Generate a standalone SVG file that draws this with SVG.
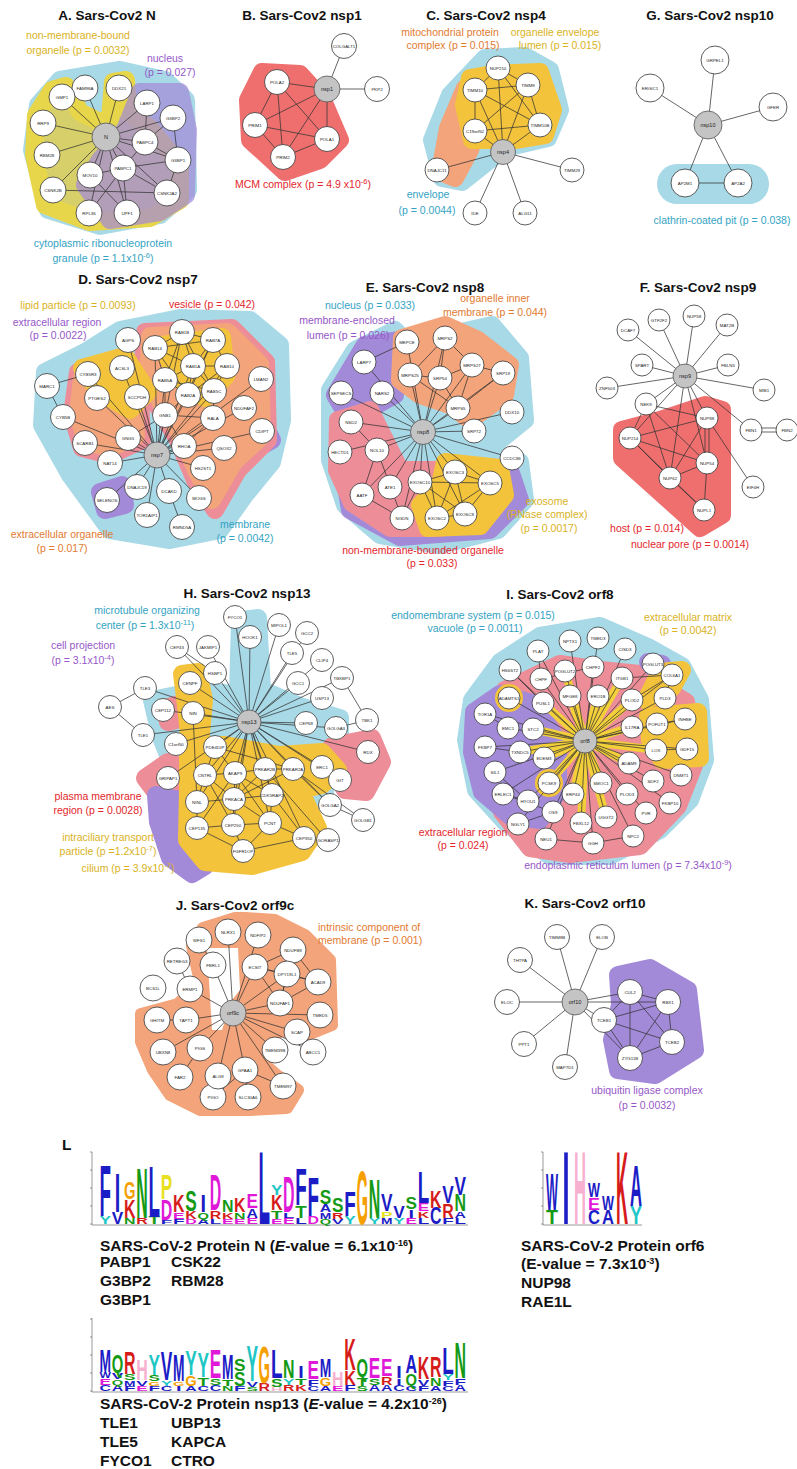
<svg xmlns="http://www.w3.org/2000/svg" width="797" height="1469" viewBox="0 0 797 1469">
<style>
.ti{font-family:"Liberation Sans",Arial,sans-serif;font-weight:bold;font-size:13.5px;fill:#111;text-anchor:middle}
.lb{font-family:"Liberation Sans",Arial,sans-serif;font-size:10.5px;text-anchor:middle}
.la{font-family:"Liberation Sans",Arial,sans-serif;font-size:10.5px}
.cy{fill:#33a3c3}.ye{fill:#d9b21c}.pu{fill:#9657c8}.rd{fill:#e3262b}.or{fill:#e27a30}
.n{fill:#fff;stroke:#333;stroke-width:0.8}
.h{fill:#c4c4c4;stroke:#555;stroke-width:0.8}
.t{font-family:"Liberation Sans",Arial,sans-serif;font-size:4.4px;text-anchor:middle;fill:#222}
.ht{font-family:"Liberation Sans",Arial,sans-serif;font-size:5.5px;text-anchor:middle;fill:#222}
.e{stroke:#333;stroke-width:0.75;fill:none}
.bC{fill:#a8d9e7;stroke:#a8d9e7;stroke-width:18;stroke-linejoin:round}
.bY{fill:#f3c33c;stroke:#f3c33c;stroke-width:18;stroke-linejoin:round}
.bA{fill:#d6cf6a;stroke:#e8d64a;stroke-width:18;stroke-linejoin:round}
.bP{fill:#a38ad9;stroke:#a38ad9;stroke-width:18;stroke-linejoin:round}
.bR{fill:#ef6f6f;stroke:#ef6f6f;stroke-width:18;stroke-linejoin:round}
.bK{fill:#ec8d98;stroke:#ec8d98;stroke-width:18;stroke-linejoin:round}
.bO{fill:#f3a47a;stroke:#f3a47a;stroke-width:18;stroke-linejoin:round}
.bO2{fill:#f3a47a;stroke:#f3a47a;stroke-width:12;stroke-linejoin:round}
.yl{stroke:#f3d03a;stroke-width:8;stroke-linecap:round;fill:none}
.lt{font-family:"Liberation Sans",Arial,sans-serif;font-weight:bold;font-size:15.5px;fill:#111}
.lg text{font-family:"Liberation Sans",Arial,sans-serif;font-weight:bold;font-size:10px}
.B{fill:#1c1cc6}.G{fill:#f5a000}.Gr{fill:#159a15}.Rd{fill:#d61b1b}.M{fill:#e019d9}.Yl{fill:#e8e020}.Cy{fill:#1fc6c6}.Pk{fill:#f7b0d0}
.ax{stroke:#555;stroke-width:0.6;fill:none}
</style>
<rect width="797" height="1469" fill="#fff"/>

<g id="regions">
<polygon class="bC" points="60,80 120,70 165,80 186,100 188,190 160,215 100,226 48,210 32,150 38,105"/>
<polygon class="bA" points="52,90 66,86 80,112 100,122 110,118 113,82 126,80 128,112 150,128 180,165 180,200 150,218 90,222 45,205 34,155 36,115"/>
<polygon class="bP" opacity="0.7" points="140,92 180,92 188,130 186,195 160,212 110,220 85,185 100,160 125,130"/>
<polygon class="bR" points="262,72 300,74 322,98 340,140 320,160 285,172 250,140 248,100"/>
<polygon class="bC" points="442,178 432,140 450,95 485,58 525,56 550,70 560,110 548,138 505,148 462,182"/>
<polygon class="bO" points="440,172 448,128 465,88 480,120 470,150 455,178"/>
<polygon class="bY" points="470,78 492,74 540,72 553,110 545,135 515,140 472,140 464,105"/>
<rect x="657" y="164" width="112" height="40" rx="20" fill="#a8d9e7"/>
<polygon class="bC" points="45,372 85,352 120,330 180,318 250,320 280,345 282,420 272,462 245,495 220,530 170,540 110,530 70,475 42,425"/>
<polygon class="bP" points="100,492 122,485 125,505 105,510"/>
<polygon class="bP" points="238,400 262,420 272,440 250,452 232,440"/>
<polygon class="bK" points="145,332 232,328 266,362 268,440 238,470 215,510 195,480 178,440 160,410 142,380"/>
<polygon class="bO" points="150,336 228,332 260,364 262,436 234,462 212,500 198,474 182,438 164,408 148,380"/>
<polygon class="bK" points="78,372 110,362 140,400 142,440 110,455 82,448 72,415"/>
<polygon class="bO" points="82,378 108,368 134,402 136,436 110,448 86,442 78,414"/>
<polygon class="bY" points="82,368 125,356 148,392 130,410 100,392"/>
<polygon class="bY" points="162,345 222,337 226,376 205,398 176,376"/>
<polygon class="bC" points="330,390 355,350 395,330 415,352 430,395 448,335 492,325 520,358 525,420 500,440 480,448 520,462 525,500 498,530 440,545 380,535 345,505 330,460"/>
<polygon class="bP" points="335,395 365,345 400,340 395,395 350,420"/>
<polygon class="bP" points="345,480 400,470 470,470 510,470 520,500 490,530 400,537 350,510"/>
<polygon class="bK" points="338,420 370,410 385,440 400,470 440,470 470,500 440,528 390,528 352,503 337,470"/>
<polygon class="bO" points="402,338 445,325 478,340 510,365 505,395 470,420 450,405 420,395 400,380"/>
<polygon class="bY" points="445,462 500,468 505,495 480,526 428,528 420,505 440,485"/>
<polygon class="bR" points="705,405 722,410 722,515 700,528 622,458 622,430 660,420"/>
<polygon class="bC" points="152,700 200,690 238,695 240,620 258,618 262,690 300,706 340,718 340,736 300,745 325,785 325,800 300,800 300,840 255,862 212,862 185,845 185,800 172,765 160,735"/>
<polygon class="bK" points="145,778 168,762 185,768 188,795 160,798"/>
<polygon class="bP" points="156,795 180,800 188,850 205,866 192,874 170,858 158,822"/>
<polygon class="bK" points="332,746 372,738 382,762 366,792 345,790 334,770"/>
<polygon class="bK" points="165,708 180,704 182,718 168,722"/>
<polygon class="bY" points="188,745 225,745 280,755 322,752 338,770 322,785 300,790 318,828 302,852 252,866 205,862 187,840 188,790"/>
<polygon class="bY" points="182,674 198,672 204,700 200,745 190,745 186,705"/>
<polygon class="bC" points="500,662 540,636 600,626 650,648 682,666 700,700 705,760 690,800 660,830 610,856 550,856 505,822 476,790 466,740 472,700"/>
<polygon class="bK" points="505,690 560,664 600,670 640,674 686,702 696,760 678,806 640,846 570,854 530,848 502,812 484,762 484,722"/>
<polygon class="bP" points="474,712 500,694 535,704 558,742 558,792 540,820 510,816 482,792 472,752"/>
<polygon class="bP" points="648,662 662,664 660,676"/>
<polygon class="bY" points="648,716 698,712 700,758 662,760 650,740"/>
<polygon class="bY" points="660,672 682,670 672,688 646,700"/>
<path class="yl" d="M585 741L543 703M585 741L570 696M585 741L598 696M585 741L632 700M585 741L632 727M585 741L656 750M585 741L629 763M585 741L601 783M585 741L573 794M585 741L549 783M585 741L544 758M585 741L533 729M585 741L520 752M585 741L565 671M585 741L622 678M585 741L581 823M585 741L606 817"/>
<circle cx="509" cy="698" r="14" fill="#f3c33c"/>
<circle cx="549" cy="783" r="14" fill="#f3c33c"/>
<polygon class="bO2" points="141,1014 178,1004 200,982 192,946 203,928 216,924 235,918 245,918 275,920 305,935 330,960 332,1025 300,1038 282,1030 262,1044 262,1062 278,1076 298,1090 287,1108 250,1110 200,1110 170,1095 153,1070 141,1042"/>
<polygon fill="#fff" points="207,948 238,948 240,990 232,1000 222,1030 212,1030"/>
<polygon class="bP" fill="#9b7ad8" stroke="#9b7ad8" points="618,975 650,968 688,990 695,1050 655,1075 618,1070 612,1040 620,1005"/>
</g>

<g id="connectors">
<path class="e" d="M106 137L85 88M106 137L119 88M106 137L62 97M106 137L43 123M106 137L47 155M106 137L53 190M106 137L90 175M106 137L123 168M106 137L147 103M106 137L173 118M106 137L145 142M106 137L178 160M106 137L167 193M106 137L89 213M106 137L127 213M53 190L167 193M123 168L145 142M123 168L178 160M145 142L173 118M145 142L178 160M178 160L173 118M123 168L90 175M123 168L127 213M123 168L89 213M90 175L127 213M123 168L167 193M178 160L167 193M145 142L147 103"/>
<path class="e" d="M327 89L344 46M327 89L377 89M327 89L277 82M327 89L255 125M327 89L327 139M327 89L283 157M277 82L255 125M277 82L283 157M277 82L327 139M255 125L283 157M255 125L327 139M283 157L327 139"/>
<path class="e" d="M503 152L498 68M503 152L475 90M503 152L528 85M503 152L475 131M503 152L540 125M503 152L437 170M503 152L572 170M503 152L475 213M503 152L525 213M475 90L528 85M475 90L475 131M475 90L540 125M528 85L540 125M528 85L475 131M475 131L540 125M498 68L475 90M498 68L528 85M498 68L540 125"/>
<path class="e" d="M708 125L715 60M708 125L650 88M708 125L773 107M708 125L685 183M708 125L738 183M685 183L738 183"/>
<path class="e" d="M157 455L128 340M157 455L155 348M157 455L182 332M157 455L213 340M157 455L122 368M157 455L193 366M157 455L227 366M157 455L88 374M157 455L165 380M157 455L261 379M157 455L137 397M157 455L188 395M157 455L214 391M157 455L97 398M157 455L244 408M157 455L63 417M157 455L165 415M157 455L213 418M157 455L262 431M157 455L85 443M157 455L128 438M157 455L184 446M157 455L224 448M157 455L110 463M157 455L203 468M157 455L137 487M157 455L169 491M157 455L107 500M157 455L199 498M157 455L147 515M169 491L182 527M47 386L88 374M47 386L63 417M155 348L182 332M155 348L193 366M155 348L165 380M182 332L213 340M182 332L193 366M213 340L227 366M213 340L193 366M193 366L227 366M193 366L165 380M193 366L188 395M193 366L214 391M227 366L214 391M165 380L188 395M188 395L214 391M165 380L165 415M165 415L188 395M165 415L213 418M213 418L214 391M184 446L213 418M165 415L128 438M184 446L165 415M155 348L213 340M165 380L214 391M188 395L227 366M155 348L188 395M182 332L214 391M182 332L165 380M213 340L188 395"/>
<path class="e" d="M423 432L407 342M423 432L445 338M423 432L364 362M423 432L472 365M423 432L503 373M423 432L410 375M423 432L440 378M423 432L341 393M423 432L382 393M423 432L458 408M423 432L512 412M423 432L351 422M423 432L474 431M423 432L340 452M423 432L377 450M423 432L512 458M423 432L455 472M423 432L490 483M423 432L420 482M423 432L390 487M423 432L362 495M423 432L402 518M423 432L437 518M423 432L465 514M445 338L410 375M445 338L440 378M445 338L472 365M472 365L503 373M472 365L458 408M410 375L440 378M440 378L458 408M503 373L458 408M410 375L458 408M440 378L472 365M364 362L407 342M351 422L377 450M377 450L362 495M377 450L402 518M362 495L402 518M455 472L490 483M455 472L437 518M455 472L465 514M490 483L465 514M437 518L465 514M420 482L490 483M420 482L437 518M420 482L455 472M490 483L437 518M402 518L420 482M420 482L465 514"/>
<path class="e" d="M685 376L659 320M685 376L694 316M685 376L628 330M685 376L727 325M685 376L642 365M685 376L728 365M685 376L607 388M685 376L764 390M685 376L646 404M685 376L707 418M685 376L751 430M685 376L630 438M685 376L707 463M685 376L670 478M751 428L786 428M751 432L786 432M707 418L753 487M646 404L707 418M646 404L630 438M646 404L670 478M646 404L707 463M630 438L707 418M630 438L707 463M630 438L670 478M705 418L705 463M709 418L709 463M707 418L670 478M707 463L670 478M707 463L704 510M670 478L704 510M630 438L704 510"/>
<path class="e" d="M249 722L235 617M249 722L250 637M249 722L279 625M249 722L307 633M249 722L177 647M249 722L208 647M249 722L292 653M249 722L322 660M249 722L215 673M249 722L342 678M249 722L190 683M249 722L298 683M249 722L322 698M249 722L163 710M249 722L193 713M249 722L306 723M249 722L336 728M249 722L143 735M249 722L176 744M249 722L215 747M249 722L368 752M249 722L322 767M249 722L168 778M249 722L205 775M249 722L235 773M249 722L265 769M249 722L293 769M249 722L340 780M249 722L197 802M249 722L234 799M249 722L272 795M249 722L330 805M249 722L233 825M249 722L270 823M249 722L305 838M249 722L145 688M110 707L145 688M110 707L143 735M342 678L367 720M336 728L367 720M177 647L215 673M205 775L235 773M205 775L197 802M205 775L234 799M205 775L233 825M235 773L234 799M235 773L272 795M235 773L265 769M235 773L270 823M235 773L197 828M265 769L293 769M265 769L234 799M293 769L234 799M265 769L272 795M197 802L234 799M197 802L197 828M234 799L233 825M234 799L272 795M234 799L270 823M272 795L270 823M272 795L305 838M233 825L270 823M197 828L233 825M197 828L243 851M233 825L243 851M270 823L243 851M270 823L305 838M305 838L243 851M215 747L235 773M215 747L205 775M215 747L293 769M293 769L330 805M293 769L363 820M265 769L326 839M330 805L363 820M322 767L340 780M193 713L197 802"/>
<path class="e" d="M585 741L598 638M585 741L570 641M585 741L625 649M585 741L538 651M585 741L653 664M585 741L510 670M585 741L565 671M585 741L593 667M585 741L672 675M585 741L622 678M585 741L541 679M585 741L509 698M585 741L543 703M585 741L570 696M585 741L598 696M585 741L632 700M585 741L665 698M585 741L485 714M585 741L508 728M585 741L533 729M585 741L632 727M585 741L657 724M585 741L685 719M585 741L485 747M585 741L520 752M585 741L544 758M585 741L656 750M585 741L687 749M585 741L629 763M585 741L495 772M585 741L681 775M585 741L549 783M585 741L601 783M585 741L653 781M585 741L503 794M585 741L573 794M585 741L627 794M585 741L670 803M585 741L528 801M585 741L553 812M585 741L606 817M585 741L646 813M585 741L518 824M585 741L581 823M585 741L546 839M585 741L593 843M585 741L633 836M541 679L593 667M632 700L672 675M665 698L672 675M622 678L672 675M656 750L687 749M657 724L685 719M546 839L593 843M593 843L633 836M503 794L553 812M495 772L528 801M510 670L543 703M538 651L541 679M485 714L508 728M485 747L520 752M503 794L528 801M518 824L553 812M581 823L593 843"/>
<path class="e" d="M233 1013L228 932M233 1013L258 935M233 1013L213 965M233 1013L255 967M233 1013L287 974M233 1013L280 1003M233 1013L320 1015M233 1013L297 1032M233 1013L275 1050M233 1013L313 1052M233 1013L245 1070M233 1013L218 1076M233 1013L200 1048M233 1013L163 1052M233 1013L186 1020M233 1013L190 989M233 1013L283 1086M199 940L213 965M157 1020L186 1020M177 961L190 989M180 1077L200 1048M213 1097L218 1076M213 1097L245 1070M248 1097L245 1070M283 1086L245 1070M293 950L255 967M293 950L318 982M318 982L287 974M318 982L280 1003M318 982L255 967M255 967L280 1003M287 974L280 1003M293 950L280 1003M255 967L287 974"/>
<path class="e" d="M575 1002L557 937M575 1002L602 937M575 1002L520 960M575 1002L630 992M575 1002L507 1002M575 1002L668 1002M575 1002L604 1020M575 1002L524 1044M575 1002L630 1058M575 1002L565 1067M630 992L668 1002M630 992L672 1042M630 992L630 1058M630 992L604 1020M668 1002L672 1042M668 1002L630 1058M668 1002L604 1020M604 1020L672 1042M604 1020L630 1058M672 1042L630 1058"/>
</g>

<g id="panelA">
<g id="A-FAM98A"><circle class="n" cx="85" cy="88" r="13"/><text class="t" x="85" y="89.6">FAM98A</text></g>
<g id="A-DDX21"><circle class="n" cx="119" cy="88" r="13"/><text class="t" x="119" y="89.6">DDX21</text></g>
<g id="A-GMP1"><circle class="n" cx="62" cy="97" r="13"/><text class="t" x="62" y="98.6">GMP1</text></g>
<g id="A-RRP9"><circle class="n" cx="43" cy="123" r="13"/><text class="t" x="43" y="124.6">RRP9</text></g>
<g id="A-RBM28"><circle class="n" cx="47" cy="155" r="13"/><text class="t" x="47" y="156.6">RBM28</text></g>
<g id="A-CSNK2B"><circle class="n" cx="53" cy="190" r="13"/><text class="t" x="53" y="191.6">CSNK2B</text></g>
<g id="A-MOV10"><circle class="n" cx="90" cy="175" r="13"/><text class="t" x="90" y="176.6">MOV10</text></g>
<g id="A-PABPC1"><circle class="n" cx="123" cy="168" r="13"/><text class="t" x="123" y="169.6">PABPC1</text></g>
<g id="A-LARP1"><circle class="n" cx="147" cy="103" r="13"/><text class="t" x="147" y="104.6">LARP1</text></g>
<g id="A-G3BP2"><circle class="n" cx="173" cy="118" r="13"/><text class="t" x="173" y="119.6">G3BP2</text></g>
<g id="A-PABPC4"><circle class="n" cx="145" cy="142" r="13"/><text class="t" x="145" y="143.6">PABPC4</text></g>
<g id="A-G3BP1"><circle class="n" cx="178" cy="160" r="13"/><text class="t" x="178" y="161.6">G3BP1</text></g>
<g id="A-CSNK2A2"><circle class="n" cx="167" cy="193" r="13"/><text class="t" x="167" y="194.6">CSNK2A2</text></g>
<g id="A-RPL36"><circle class="n" cx="89" cy="213" r="13"/><text class="t" x="89" y="214.6">RPL36</text></g>
<g id="A-UPF1"><circle class="n" cx="127" cy="213" r="13"/><text class="t" x="127" y="214.6">UPF1</text></g>
<g id="A-N"><circle class="h" cx="106" cy="137" r="14"/><text class="ht" x="106" y="139">N</text></g>
</g>

<g id="panelB">
<g id="B-COLGALT1"><circle class="n" cx="344" cy="46" r="12.5"/><text class="t" x="344" y="47.6">COLGALT1</text></g>
<g id="B-PKP2"><circle class="n" cx="377" cy="89" r="12.5"/><text class="t" x="377" y="90.6">PKP2</text></g>
<g id="B-POLA2"><circle class="n" cx="277" cy="82" r="12.5"/><text class="t" x="277" y="83.6">POLA2</text></g>
<g id="B-PRIM1"><circle class="n" cx="255" cy="125" r="12.5"/><text class="t" x="255" y="126.6">PRIM1</text></g>
<g id="B-POLA1"><circle class="n" cx="327" cy="139" r="12.5"/><text class="t" x="327" y="140.6">POLA1</text></g>
<g id="B-PRIM2"><circle class="n" cx="283" cy="157" r="12.5"/><text class="t" x="283" y="158.6">PRIM2</text></g>
<g id="B-nsp1"><circle class="h" cx="327" cy="89" r="13"/><text class="ht" x="327" y="91">nsp1</text></g>
</g>

<g id="panelC">
<g id="C-NUP210"><circle class="n" cx="498" cy="68" r="12"/><text class="t" x="498" y="69.6">NUP210</text></g>
<g id="C-TIMM10"><circle class="n" cx="475" cy="90" r="12"/><text class="t" x="475" y="91.6">TIMM10</text></g>
<g id="C-TIMM9"><circle class="n" cx="528" cy="85" r="12"/><text class="t" x="528" y="86.6">TIMM9</text></g>
<g id="C-C19orf52"><circle class="n" cx="475" cy="131" r="12"/><text class="t" x="475" y="132.6">C19orf52</text></g>
<g id="C-TIMM10B"><circle class="n" cx="540" cy="125" r="12"/><text class="t" x="540" y="126.6">TIMM10B</text></g>
<g id="C-DNAJC11"><circle class="n" cx="437" cy="170" r="12"/><text class="t" x="437" y="171.6">DNAJC11</text></g>
<g id="C-TIMM29"><circle class="n" cx="572" cy="170" r="12"/><text class="t" x="572" y="171.6">TIMM29</text></g>
<g id="C-IDE"><circle class="n" cx="475" cy="213" r="12"/><text class="t" x="475" y="214.6">IDE</text></g>
<g id="C-ALG11"><circle class="n" cx="525" cy="213" r="12"/><text class="t" x="525" y="214.6">ALG11</text></g>
<g id="C-nsp4"><circle class="h" cx="503" cy="152" r="12.5"/><text class="ht" x="503" y="154">nsp4</text></g>
</g>

<g id="panelG">
<g id="G-GRPEL1"><circle class="n" cx="715" cy="60" r="14"/><text class="t" x="715" y="61.6">GRPEL1</text></g>
<g id="G-ERGIC1"><circle class="n" cx="650" cy="88" r="14"/><text class="t" x="650" y="89.6">ERGIC1</text></g>
<g id="G-GFER"><circle class="n" cx="773" cy="107" r="14"/><text class="t" x="773" y="108.6">GFER</text></g>
<g id="G-AP2M1"><circle class="n" cx="685" cy="183" r="14"/><text class="t" x="685" y="184.6">AP2M1</text></g>
<g id="G-AP2A2"><circle class="n" cx="738" cy="183" r="14"/><text class="t" x="738" y="184.6">AP2A2</text></g>
<g id="G-nsp10"><circle class="h" cx="708" cy="125" r="14"/><text class="ht" x="708" y="127">nsp10</text></g>
</g>

<g id="panelD">
<g id="D-AGPS"><circle class="n" cx="128" cy="340" r="12.5"/><text class="t" x="128" y="341.6">AGPS</text></g>
<g id="D-RAB14"><circle class="n" cx="155" cy="348" r="12.5"/><text class="t" x="155" y="349.6">RAB14</text></g>
<g id="D-RAB1B"><circle class="n" cx="182" cy="332" r="12.5"/><text class="t" x="182" y="333.6">RAB1B</text></g>
<g id="D-RAB7A"><circle class="n" cx="213" cy="340" r="12.5"/><text class="t" x="213" y="341.6">RAB7A</text></g>
<g id="D-ACSL3"><circle class="n" cx="122" cy="368" r="12.5"/><text class="t" x="122" y="369.6">ACSL3</text></g>
<g id="D-RAB1A"><circle class="n" cx="193" cy="366" r="12.5"/><text class="t" x="193" y="367.6">RAB1A</text></g>
<g id="D-RAB10"><circle class="n" cx="227" cy="366" r="12.5"/><text class="t" x="227" y="367.6">RAB10</text></g>
<g id="D-CYB5R3"><circle class="n" cx="88" cy="374" r="12.5"/><text class="t" x="88" y="375.6">CYB5R3</text></g>
<g id="D-MARC1"><circle class="n" cx="47" cy="386" r="12.5"/><text class="t" x="47" y="387.6">MARC1</text></g>
<g id="D-RAB5A"><circle class="n" cx="165" cy="380" r="12.5"/><text class="t" x="165" y="381.6">RAB5A</text></g>
<g id="D-LMAN2"><circle class="n" cx="261" cy="379" r="12.5"/><text class="t" x="261" y="380.6">LMAN2</text></g>
<g id="D-SCCPDH"><circle class="n" cx="137" cy="397" r="12.5"/><text class="t" x="137" y="398.6">SCCPDH</text></g>
<g id="D-RAB2A"><circle class="n" cx="188" cy="395" r="12.5"/><text class="t" x="188" y="396.6">RAB2A</text></g>
<g id="D-RAB5C"><circle class="n" cx="214" cy="391" r="12.5"/><text class="t" x="214" y="392.6">RAB5C</text></g>
<g id="D-PTGES2"><circle class="n" cx="97" cy="398" r="12.5"/><text class="t" x="97" y="399.6">PTGES2</text></g>
<g id="D-NDUFAF2"><circle class="n" cx="244" cy="408" r="12.5"/><text class="t" x="244" y="409.6">NDUFAF2</text></g>
<g id="D-CYB5B"><circle class="n" cx="63" cy="417" r="12.5"/><text class="t" x="63" y="418.6">CYB5B</text></g>
<g id="D-GNB1"><circle class="n" cx="165" cy="415" r="12.5"/><text class="t" x="165" y="416.6">GNB1</text></g>
<g id="D-RALA"><circle class="n" cx="213" cy="418" r="12.5"/><text class="t" x="213" y="419.6">RALA</text></g>
<g id="D-CDIPT"><circle class="n" cx="262" cy="431" r="12.5"/><text class="t" x="262" y="432.6">CDIPT</text></g>
<g id="D-SCARB1"><circle class="n" cx="85" cy="443" r="12.5"/><text class="t" x="85" y="444.6">SCARB1</text></g>
<g id="D-GNG5"><circle class="n" cx="128" cy="438" r="12.5"/><text class="t" x="128" y="439.6">GNG5</text></g>
<g id="D-RHOA"><circle class="n" cx="184" cy="446" r="12.5"/><text class="t" x="184" y="447.6">RHOA</text></g>
<g id="D-QSOX2"><circle class="n" cx="224" cy="448" r="12.5"/><text class="t" x="224" y="449.6">QSOX2</text></g>
<g id="D-NAT14"><circle class="n" cx="110" cy="463" r="12.5"/><text class="t" x="110" y="464.6">NAT14</text></g>
<g id="D-HS2ST1"><circle class="n" cx="203" cy="468" r="12.5"/><text class="t" x="203" y="469.6">HS2ST1</text></g>
<g id="D-DNAJC19"><circle class="n" cx="137" cy="487" r="12.5"/><text class="t" x="137" y="488.6">DNAJC19</text></g>
<g id="D-DCAKD"><circle class="n" cx="169" cy="491" r="12.5"/><text class="t" x="169" y="492.6">DCAKD</text></g>
<g id="D-SELENOS"><circle class="n" cx="107" cy="500" r="12.5"/><text class="t" x="107" y="501.6">SELENOS</text></g>
<g id="D-MOGS"><circle class="n" cx="199" cy="498" r="12.5"/><text class="t" x="199" y="499.6">MOGS</text></g>
<g id="D-TOR1AIP1"><circle class="n" cx="147" cy="515" r="12.5"/><text class="t" x="147" y="516.6">TOR1AIP1</text></g>
<g id="D-RMND5A"><circle class="n" cx="182" cy="527" r="12.5"/><text class="t" x="182" y="528.6">RMND5A</text></g>
<g id="D-nsp7"><circle class="h" cx="157" cy="455" r="13"/><text class="ht" x="157" y="457">nsp7</text></g>
</g>

<g id="panelE">
<g id="E-MEPCE"><circle class="n" cx="407" cy="342" r="12"/><text class="t" x="407" y="343.6">MEPCE</text></g>
<g id="E-MRPS2"><circle class="n" cx="445" cy="338" r="12"/><text class="t" x="445" y="339.6">MRPS2</text></g>
<g id="E-LARP7"><circle class="n" cx="364" cy="362" r="12"/><text class="t" x="364" y="363.6">LARP7</text></g>
<g id="E-MRPS27"><circle class="n" cx="472" cy="365" r="12"/><text class="t" x="472" y="366.6">MRPS27</text></g>
<g id="E-SRP19"><circle class="n" cx="503" cy="373" r="12"/><text class="t" x="503" y="374.6">SRP19</text></g>
<g id="E-MRPS25"><circle class="n" cx="410" cy="375" r="12"/><text class="t" x="410" y="376.6">MRPS25</text></g>
<g id="E-SRP54"><circle class="n" cx="440" cy="378" r="12"/><text class="t" x="440" y="379.6">SRP54</text></g>
<g id="E-SEPSECS"><circle class="n" cx="341" cy="393" r="12"/><text class="t" x="341" y="394.6">SEPSECS</text></g>
<g id="E-NARS2"><circle class="n" cx="382" cy="393" r="12"/><text class="t" x="382" y="394.6">NARS2</text></g>
<g id="E-MRPS5"><circle class="n" cx="458" cy="408" r="12"/><text class="t" x="458" y="409.6">MRPS5</text></g>
<g id="E-DDX10"><circle class="n" cx="512" cy="412" r="12"/><text class="t" x="512" y="413.6">DDX10</text></g>
<g id="E-NSD2"><circle class="n" cx="351" cy="422" r="12"/><text class="t" x="351" y="423.6">NSD2</text></g>
<g id="E-SRP72"><circle class="n" cx="474" cy="431" r="12"/><text class="t" x="474" y="432.6">SRP72</text></g>
<g id="E-HECTD1"><circle class="n" cx="340" cy="452" r="12"/><text class="t" x="340" y="453.6">HECTD1</text></g>
<g id="E-NOL10"><circle class="n" cx="377" cy="450" r="12"/><text class="t" x="377" y="451.6">NOL10</text></g>
<g id="E-CCDC86"><circle class="n" cx="512" cy="458" r="12"/><text class="t" x="512" y="459.6">CCDC86</text></g>
<g id="E-EXOSC3"><circle class="n" cx="455" cy="472" r="12"/><text class="t" x="455" y="473.6">EXOSC3</text></g>
<g id="E-EXOSC5"><circle class="n" cx="490" cy="483" r="12"/><text class="t" x="490" y="484.6">EXOSC5</text></g>
<g id="E-EXOSC10"><circle class="n" cx="420" cy="482" r="12"/><text class="t" x="420" y="483.6">EXOSC10</text></g>
<g id="E-ATE1"><circle class="n" cx="390" cy="487" r="12"/><text class="t" x="390" y="488.6">ATE1</text></g>
<g id="E-AATF"><circle class="n" cx="362" cy="495" r="12"/><text class="t" x="362" y="496.6">AATF</text></g>
<g id="E-NGDN"><circle class="n" cx="402" cy="518" r="12"/><text class="t" x="402" y="519.6">NGDN</text></g>
<g id="E-EXOSC2"><circle class="n" cx="437" cy="518" r="12"/><text class="t" x="437" y="519.6">EXOSC2</text></g>
<g id="E-EXOSC8"><circle class="n" cx="465" cy="514" r="12"/><text class="t" x="465" y="515.6">EXOSC8</text></g>
<g id="E-nsp8"><circle class="h" cx="423" cy="432" r="12.5"/><text class="ht" x="423" y="434">nsp8</text></g>
</g>

<g id="panelF">
<g id="F-GTF2F2"><circle class="n" cx="659" cy="320" r="11"/><text class="t" x="659" y="321.6">GTF2F2</text></g>
<g id="F-NUP58"><circle class="n" cx="694" cy="316" r="11"/><text class="t" x="694" y="317.6">NUP58</text></g>
<g id="F-DCAF7"><circle class="n" cx="628" cy="330" r="11"/><text class="t" x="628" y="331.6">DCAF7</text></g>
<g id="F-MAT2B"><circle class="n" cx="727" cy="325" r="11"/><text class="t" x="727" y="326.6">MAT2B</text></g>
<g id="F-SPART"><circle class="n" cx="642" cy="365" r="11"/><text class="t" x="642" y="366.6">SPART</text></g>
<g id="F-FBLN5"><circle class="n" cx="728" cy="365" r="11"/><text class="t" x="728" y="366.6">FBLN5</text></g>
<g id="F-ZNF503"><circle class="n" cx="607" cy="388" r="11"/><text class="t" x="607" y="389.6">ZNF503</text></g>
<g id="F-MIB1"><circle class="n" cx="764" cy="390" r="11"/><text class="t" x="764" y="391.6">MIB1</text></g>
<g id="F-NEK9"><circle class="n" cx="646" cy="404" r="11"/><text class="t" x="646" y="405.6">NEK9</text></g>
<g id="F-NUP88"><circle class="n" cx="707" cy="418" r="11"/><text class="t" x="707" y="419.6">NUP88</text></g>
<g id="F-FBN1"><circle class="n" cx="751" cy="430" r="11"/><text class="t" x="751" y="431.6">FBN1</text></g>
<g id="F-FBN2"><circle class="n" cx="787" cy="430" r="11"/><text class="t" x="787" y="431.6">FBN2</text></g>
<g id="F-NUP214"><circle class="n" cx="630" cy="438" r="11"/><text class="t" x="630" y="439.6">NUP214</text></g>
<g id="F-NUP54"><circle class="n" cx="707" cy="463" r="11"/><text class="t" x="707" y="464.6">NUP54</text></g>
<g id="F-NUP62"><circle class="n" cx="670" cy="478" r="11"/><text class="t" x="670" y="479.6">NUP62</text></g>
<g id="F-EIF4H"><circle class="n" cx="753" cy="487" r="11"/><text class="t" x="753" y="488.6">EIF4H</text></g>
<g id="F-NUPL1"><circle class="n" cx="704" cy="510" r="11"/><text class="t" x="704" y="511.6">NUPL1</text></g>
<g id="F-nsp9"><circle class="h" cx="685" cy="376" r="12"/><text class="ht" x="685" y="378">nsp9</text></g>
</g>

<g id="panelH">
<g id="H-FYCO1"><circle class="n" cx="235" cy="617" r="11.5"/><text class="t" x="235" y="618.6">FYCO1</text></g>
<g id="H-HOOK1"><circle class="n" cx="250" cy="637" r="11.5"/><text class="t" x="250" y="638.6">HOOK1</text></g>
<g id="H-MIPOL1"><circle class="n" cx="279" cy="625" r="11.5"/><text class="t" x="279" y="626.6">MIPOL1</text></g>
<g id="H-GCC2"><circle class="n" cx="307" cy="633" r="11.5"/><text class="t" x="307" y="634.6">GCC2</text></g>
<g id="H-CEP43"><circle class="n" cx="177" cy="647" r="11.5"/><text class="t" x="177" y="648.6">CEP43</text></g>
<g id="H-JAKMIP1"><circle class="n" cx="208" cy="647" r="11.5"/><text class="t" x="208" y="648.6">JAKMIP1</text></g>
<g id="H-TLE5"><circle class="n" cx="292" cy="653" r="11.5"/><text class="t" x="292" y="654.6">TLE5</text></g>
<g id="H-CLIP4"><circle class="n" cx="322" cy="660" r="11.5"/><text class="t" x="322" y="661.6">CLIP4</text></g>
<g id="H-HSBP1"><circle class="n" cx="215" cy="673" r="11.5"/><text class="t" x="215" y="674.6">HSBP1</text></g>
<g id="H-TBKBP1"><circle class="n" cx="342" cy="678" r="11.5"/><text class="t" x="342" y="679.6">TBKBP1</text></g>
<g id="H-CENPF"><circle class="n" cx="190" cy="683" r="11.5"/><text class="t" x="190" y="684.6">CENPF</text></g>
<g id="H-TLE3"><circle class="n" cx="145" cy="688" r="11.5"/><text class="t" x="145" y="689.6">TLE3</text></g>
<g id="H-GCC1"><circle class="n" cx="298" cy="683" r="11.5"/><text class="t" x="298" y="684.6">GCC1</text></g>
<g id="H-USP13"><circle class="n" cx="322" cy="698" r="11.5"/><text class="t" x="322" y="699.6">USP13</text></g>
<g id="H-AES"><circle class="n" cx="110" cy="707" r="11.5"/><text class="t" x="110" y="708.6">AES</text></g>
<g id="H-CEP112"><circle class="n" cx="163" cy="710" r="11.5"/><text class="t" x="163" y="711.6">CEP112</text></g>
<g id="H-NIN"><circle class="n" cx="193" cy="713" r="11.5"/><text class="t" x="193" y="714.6">NIN</text></g>
<g id="H-CEP68"><circle class="n" cx="306" cy="723" r="11.5"/><text class="t" x="306" y="724.6">CEP68</text></g>
<g id="H-GOLGA3"><circle class="n" cx="336" cy="728" r="11.5"/><text class="t" x="336" y="729.6">GOLGA3</text></g>
<g id="H-TBK1"><circle class="n" cx="367" cy="720" r="11.5"/><text class="t" x="367" y="721.6">TBK1</text></g>
<g id="H-TLE1"><circle class="n" cx="143" cy="735" r="11.5"/><text class="t" x="143" y="736.6">TLE1</text></g>
<g id="H-C1orf50"><circle class="n" cx="176" cy="744" r="11.5"/><text class="t" x="176" y="745.6">C1orf50</text></g>
<g id="H-PDE4DIP"><circle class="n" cx="215" cy="747" r="11.5"/><text class="t" x="215" y="748.6">PDE4DIP</text></g>
<g id="H-RDX"><circle class="n" cx="368" cy="752" r="11.5"/><text class="t" x="368" y="753.6">RDX</text></g>
<g id="H-ERC1"><circle class="n" cx="322" cy="767" r="11.5"/><text class="t" x="322" y="768.6">ERC1</text></g>
<g id="H-GRIPAP1"><circle class="n" cx="168" cy="778" r="11.5"/><text class="t" x="168" y="779.6">GRIPAP1</text></g>
<g id="H-CNTRL"><circle class="n" cx="205" cy="775" r="11.5"/><text class="t" x="205" y="776.6">CNTRL</text></g>
<g id="H-AKAP9"><circle class="n" cx="235" cy="773" r="11.5"/><text class="t" x="235" y="774.6">AKAP9</text></g>
<g id="H-PRKAR2B"><circle class="n" cx="265" cy="769" r="11.5"/><text class="t" x="265" y="770.6">PRKAR2B</text></g>
<g id="H-PRKAR2A"><circle class="n" cx="293" cy="769" r="11.5"/><text class="t" x="293" y="770.6">PRKAR2A</text></g>
<g id="H-GIT"><circle class="n" cx="340" cy="780" r="11.5"/><text class="t" x="340" y="781.6">GIT</text></g>
<g id="H-NINL"><circle class="n" cx="197" cy="802" r="11.5"/><text class="t" x="197" y="803.6">NINL</text></g>
<g id="H-PRKACA"><circle class="n" cx="234" cy="799" r="11.5"/><text class="t" x="234" y="800.6">PRKACA</text></g>
<g id="H-CDK5RAP2"><circle class="n" cx="272" cy="795" r="11.5"/><text class="t" x="272" y="796.6">CDK5RAP2</text></g>
<g id="H-GOLGA2"><circle class="n" cx="330" cy="805" r="11.5"/><text class="t" x="330" y="806.6">GOLGA2</text></g>
<g id="H-CEP135"><circle class="n" cx="197" cy="828" r="11.5"/><text class="t" x="197" y="829.6">CEP135</text></g>
<g id="H-CEP250"><circle class="n" cx="233" cy="825" r="11.5"/><text class="t" x="233" y="826.6">CEP250</text></g>
<g id="H-PCNT"><circle class="n" cx="270" cy="823" r="11.5"/><text class="t" x="270" y="824.6">PCNT</text></g>
<g id="H-GOLGB1"><circle class="n" cx="363" cy="820" r="11.5"/><text class="t" x="363" y="821.6">GOLGB1</text></g>
<g id="H-CEP350"><circle class="n" cx="304" cy="838" r="11.5"/><text class="t" x="304" y="839.6">CEP350</text></g>
<g id="H-GORASP1"><circle class="n" cx="328" cy="840" r="11.5"/><text class="t" x="328" y="841.6">GORASP1</text></g>
<g id="H-FGFR1OP"><circle class="n" cx="243" cy="851" r="11.5"/><text class="t" x="243" y="852.6">FGFR1OP</text></g>
<g id="H-nsp13"><circle class="h" cx="249" cy="722" r="12"/><text class="ht" x="249" y="724">nsp13</text></g>
</g>

<g id="panelI">
<g id="I-TMED3"><circle class="n" cx="598" cy="638" r="11"/><text class="t" x="598" y="639.6">TMED3</text></g>
<g id="I-NPTX1"><circle class="n" cx="570" cy="641" r="11"/><text class="t" x="570" y="642.6">NPTX1</text></g>
<g id="I-CISD3"><circle class="n" cx="625" cy="649" r="11"/><text class="t" x="625" y="650.6">CISD3</text></g>
<g id="I-PLAT"><circle class="n" cx="538" cy="651" r="11"/><text class="t" x="538" y="652.6">PLAT</text></g>
<g id="I-POGLUT3"><circle class="n" cx="653" cy="664" r="11"/><text class="t" x="653" y="665.6">POGLUT3</text></g>
<g id="I-HS6ST2"><circle class="n" cx="510" cy="670" r="11"/><text class="t" x="510" y="671.6">HS6ST2</text></g>
<g id="I-POGLUT2"><circle class="n" cx="565" cy="671" r="11"/><text class="t" x="565" y="672.6">POGLUT2</text></g>
<g id="I-CHPF2"><circle class="n" cx="593" cy="667" r="11"/><text class="t" x="593" y="668.6">CHPF2</text></g>
<g id="I-COL6A1"><circle class="n" cx="672" cy="675" r="11"/><text class="t" x="672" y="676.6">COL6A1</text></g>
<g id="I-ITGB1"><circle class="n" cx="622" cy="678" r="11"/><text class="t" x="622" y="679.6">ITGB1</text></g>
<g id="I-CHPF"><circle class="n" cx="541" cy="679" r="11"/><text class="t" x="541" y="680.6">CHPF</text></g>
<g id="I-ADAMTS1"><circle class="n" cx="509" cy="698" r="11"/><text class="t" x="509" y="699.6">ADAMTS1</text></g>
<g id="I-PUSL1"><circle class="n" cx="543" cy="703" r="11"/><text class="t" x="543" y="704.6">PUSL1</text></g>
<g id="I-MFGE8"><circle class="n" cx="570" cy="696" r="11"/><text class="t" x="570" y="697.6">MFGE8</text></g>
<g id="I-ERO1B"><circle class="n" cx="598" cy="696" r="11"/><text class="t" x="598" y="697.6">ERO1B</text></g>
<g id="I-PLOD2"><circle class="n" cx="632" cy="700" r="11"/><text class="t" x="632" y="701.6">PLOD2</text></g>
<g id="I-PLD3"><circle class="n" cx="665" cy="698" r="11"/><text class="t" x="665" y="699.6">PLD3</text></g>
<g id="I-TOR1A"><circle class="n" cx="485" cy="714" r="11"/><text class="t" x="485" y="715.6">TOR1A</text></g>
<g id="I-EMC1"><circle class="n" cx="508" cy="728" r="11"/><text class="t" x="508" y="729.6">EMC1</text></g>
<g id="I-STC2"><circle class="n" cx="533" cy="729" r="11"/><text class="t" x="533" y="730.6">STC2</text></g>
<g id="I-IL17RA"><circle class="n" cx="632" cy="727" r="11"/><text class="t" x="632" y="728.6">IL17RA</text></g>
<g id="I-POFUT1"><circle class="n" cx="657" cy="724" r="11"/><text class="t" x="657" y="725.6">POFUT1</text></g>
<g id="I-INHBE"><circle class="n" cx="685" cy="719" r="11"/><text class="t" x="685" y="720.6">INHBE</text></g>
<g id="I-FKBP7"><circle class="n" cx="485" cy="747" r="11"/><text class="t" x="485" y="748.6">FKBP7</text></g>
<g id="I-TXNDC5"><circle class="n" cx="520" cy="752" r="11"/><text class="t" x="520" y="753.6">TXNDC5</text></g>
<g id="I-EDEM3"><circle class="n" cx="544" cy="758" r="11"/><text class="t" x="544" y="759.6">EDEM3</text></g>
<g id="I-LOX"><circle class="n" cx="656" cy="750" r="11"/><text class="t" x="656" y="751.6">LOX</text></g>
<g id="I-GDF15"><circle class="n" cx="687" cy="749" r="11"/><text class="t" x="687" y="750.6">GDF15</text></g>
<g id="I-ADAM9"><circle class="n" cx="629" cy="763" r="11"/><text class="t" x="629" y="764.6">ADAM9</text></g>
<g id="I-SIL1"><circle class="n" cx="495" cy="772" r="11"/><text class="t" x="495" y="773.6">SIL1</text></g>
<g id="I-DNMT1"><circle class="n" cx="681" cy="775" r="11"/><text class="t" x="681" y="776.6">DNMT1</text></g>
<g id="I-PCSK9"><circle class="n" cx="549" cy="783" r="11"/><text class="t" x="549" y="784.6">PCSK9</text></g>
<g id="I-SMOC1"><circle class="n" cx="601" cy="783" r="11"/><text class="t" x="601" y="784.6">SMOC1</text></g>
<g id="I-SDF2"><circle class="n" cx="653" cy="781" r="11"/><text class="t" x="653" y="782.6">SDF2</text></g>
<g id="I-ERLEC1"><circle class="n" cx="503" cy="794" r="11"/><text class="t" x="503" y="795.6">ERLEC1</text></g>
<g id="I-ERP44"><circle class="n" cx="573" cy="794" r="11"/><text class="t" x="573" y="795.6">ERP44</text></g>
<g id="I-PLOD3"><circle class="n" cx="627" cy="794" r="11"/><text class="t" x="627" y="795.6">PLOD3</text></g>
<g id="I-FKBP10"><circle class="n" cx="670" cy="803" r="11"/><text class="t" x="670" y="804.6">FKBP10</text></g>
<g id="I-HYOU1"><circle class="n" cx="528" cy="801" r="11"/><text class="t" x="528" y="802.6">HYOU1</text></g>
<g id="I-OS9"><circle class="n" cx="553" cy="812" r="11"/><text class="t" x="553" y="813.6">OS9</text></g>
<g id="I-UGGT2"><circle class="n" cx="606" cy="817" r="11"/><text class="t" x="606" y="818.6">UGGT2</text></g>
<g id="I-PVR"><circle class="n" cx="646" cy="813" r="11"/><text class="t" x="646" y="814.6">PVR</text></g>
<g id="I-NGLY1"><circle class="n" cx="518" cy="824" r="11"/><text class="t" x="518" y="825.6">NGLY1</text></g>
<g id="I-FBXL12"><circle class="n" cx="581" cy="823" r="11"/><text class="t" x="581" y="824.6">FBXL12</text></g>
<g id="I-NEU1"><circle class="n" cx="546" cy="839" r="11"/><text class="t" x="546" y="840.6">NEU1</text></g>
<g id="I-GGH"><circle class="n" cx="593" cy="843" r="11"/><text class="t" x="593" y="844.6">GGH</text></g>
<g id="I-NPC2"><circle class="n" cx="633" cy="836" r="11"/><text class="t" x="633" y="837.6">NPC2</text></g>
<g id="I-orf8"><circle class="h" cx="585" cy="741" r="12"/><text class="ht" x="585" y="743">orf8</text></g>
</g>

<g id="panelJ">
<g id="J-NLRX1"><circle class="n" cx="228" cy="932" r="13"/><text class="t" x="228" y="933.6">NLRX1</text></g>
<g id="J-NDFIP2"><circle class="n" cx="258" cy="935" r="13"/><text class="t" x="258" y="936.6">NDFIP2</text></g>
<g id="J-WFS1"><circle class="n" cx="199" cy="940" r="13"/><text class="t" x="199" y="941.6">WFS1</text></g>
<g id="J-NDUFB9"><circle class="n" cx="293" cy="950" r="13"/><text class="t" x="293" y="951.6">NDUFB9</text></g>
<g id="J-RETREG3"><circle class="n" cx="177" cy="961" r="13"/><text class="t" x="177" y="962.6">RETREG3</text></g>
<g id="J-FBRL1"><circle class="n" cx="213" cy="965" r="13"/><text class="t" x="213" y="966.6">FBRL1</text></g>
<g id="J-ECSIT"><circle class="n" cx="255" cy="967" r="13"/><text class="t" x="255" y="968.6">ECSIT</text></g>
<g id="J-DPY19L1"><circle class="n" cx="287" cy="974" r="13"/><text class="t" x="287" y="975.6">DPY19L1</text></g>
<g id="J-ACAD9"><circle class="n" cx="318" cy="982" r="13"/><text class="t" x="318" y="983.6">ACAD9</text></g>
<g id="J-BCS1L"><circle class="n" cx="153" cy="988" r="13"/><text class="t" x="153" y="989.6">BCS1L</text></g>
<g id="J-ERMP1"><circle class="n" cx="190" cy="989" r="13"/><text class="t" x="190" y="990.6">ERMP1</text></g>
<g id="J-NDUFAF1"><circle class="n" cx="280" cy="1003" r="13"/><text class="t" x="280" y="1004.6">NDUFAF1</text></g>
<g id="J-TMED5"><circle class="n" cx="320" cy="1015" r="13"/><text class="t" x="320" y="1016.6">TMED5</text></g>
<g id="J-GHITM"><circle class="n" cx="157" cy="1020" r="13"/><text class="t" x="157" y="1021.6">GHITM</text></g>
<g id="J-TAPT1"><circle class="n" cx="186" cy="1020" r="13"/><text class="t" x="186" y="1021.6">TAPT1</text></g>
<g id="J-SCAP"><circle class="n" cx="297" cy="1032" r="13"/><text class="t" x="297" y="1033.6">SCAP</text></g>
<g id="J-TMEM39B"><circle class="n" cx="275" cy="1050" r="13"/><text class="t" x="275" y="1051.6">TMEM39B</text></g>
<g id="J-ABCC1"><circle class="n" cx="313" cy="1052" r="13"/><text class="t" x="313" y="1053.6">ABCC1</text></g>
<g id="J-UBXN8"><circle class="n" cx="163" cy="1052" r="13"/><text class="t" x="163" y="1053.6">UBXN8</text></g>
<g id="J-PIGS"><circle class="n" cx="200" cy="1048" r="13"/><text class="t" x="200" y="1049.6">PIGS</text></g>
<g id="J-TMEM97"><circle class="n" cx="283" cy="1086" r="13"/><text class="t" x="283" y="1087.6">TMEM97</text></g>
<g id="J-FAR2"><circle class="n" cx="180" cy="1077" r="13"/><text class="t" x="180" y="1078.6">FAR2</text></g>
<g id="J-PIGO"><circle class="n" cx="213" cy="1097" r="13"/><text class="t" x="213" y="1098.6">PIGO</text></g>
<g id="J-SLC30A6"><circle class="n" cx="248" cy="1097" r="13"/><text class="t" x="248" y="1098.6">SLC30A6</text></g>
<g id="J-ALG8"><circle class="n" cx="218" cy="1076" r="13"/><text class="t" x="218" y="1077.6">ALG8</text></g>
<g id="J-GPAA1"><circle class="n" cx="245" cy="1070" r="13"/><text class="t" x="245" y="1071.6">GPAA1</text></g>
<g id="J-orf9c"><circle class="h" cx="233" cy="1013" r="13"/><text class="ht" x="233" y="1015">orf9c</text></g>
</g>

<g id="panelK">
<g id="K-TIMM8B"><circle class="n" cx="557" cy="937" r="12.5"/><text class="t" x="557" y="938.6">TIMM8B</text></g>
<g id="K-ELOB"><circle class="n" cx="602" cy="937" r="12.5"/><text class="t" x="602" y="938.6">ELOB</text></g>
<g id="K-THTPA"><circle class="n" cx="520" cy="960" r="12.5"/><text class="t" x="520" y="961.6">THTPA</text></g>
<g id="K-CUL2"><circle class="n" cx="630" cy="992" r="12.5"/><text class="t" x="630" y="993.6">CUL2</text></g>
<g id="K-ELOC"><circle class="n" cx="507" cy="1002" r="12.5"/><text class="t" x="507" y="1003.6">ELOC</text></g>
<g id="K-RBX1"><circle class="n" cx="668" cy="1002" r="12.5"/><text class="t" x="668" y="1003.6">RBX1</text></g>
<g id="K-TCEB1"><circle class="n" cx="604" cy="1020" r="12.5"/><text class="t" x="604" y="1021.6">TCEB1</text></g>
<g id="K-TCEB2"><circle class="n" cx="672" cy="1042" r="12.5"/><text class="t" x="672" y="1043.6">TCEB2</text></g>
<g id="K-PPT1"><circle class="n" cx="524" cy="1044" r="12.5"/><text class="t" x="524" y="1045.6">PPT1</text></g>
<g id="K-ZYG11B"><circle class="n" cx="630" cy="1058" r="12.5"/><text class="t" x="630" y="1059.6">ZYG11B</text></g>
<g id="K-MAP7D1"><circle class="n" cx="565" cy="1067" r="12.5"/><text class="t" x="565" y="1068.6">MAP7D1</text></g>
<g id="K-orf10"><circle class="h" cx="575" cy="1002" r="13"/><text class="ht" x="575" y="1004">orf10</text></g>
</g>

<g id="labels">
<text class="ti" x="107" y="20">A. Sars-Cov2 N</text>
<text class="ti" x="302" y="20">B. Sars-Cov2 nsp1</text>
<text class="ti" x="486" y="20">C. Sars-Cov2 nsp4</text>
<text class="ti" x="710" y="20">G. Sars-Cov2 nsp10</text>
<text class="ti" x="138" y="284">D. Sars-Cov2 nsp7</text>
<text class="ti" x="425" y="292">E. Sars-Cov2 nsp8</text>
<text class="ti" x="698" y="292">F. Sars-Cov2 nsp9</text>
<text class="ti" x="247" y="598">H. Sars-Cov2 nsp13</text>
<text class="ti" x="560" y="599">I. Sars-Cov2 orf8</text>
<text class="ti" x="235" y="910">J. Sars-Cov2 orf9c</text>
<text class="ti" x="585" y="908">K. Sars-Cov2 orf10</text>
<text class="lb ye" x="78" y="39">non-membrane-bound</text>
<text class="lb ye" x="78" y="54">organelle (p = 0.0032)</text>
<text class="lb pu" x="165" y="62">nucleus</text>
<text class="lb pu" x="170" y="76">(p = 0.027)</text>
<text class="lb cy" x="103" y="247">cytoplasmic ribonucleoprotein</text>
<text class="lb cy" x="103" y="262">granule (p = 1.1x10<tspan dy="-4" font-size="7.5">-6</tspan><tspan dy="4">)</tspan></text>
<text class="lb rd" x="303" y="188">MCM complex (p = 4.9 x10<tspan dy="-4" font-size="7.5">-6</tspan><tspan dy="4">)</tspan></text>
<text class="lb or" x="450" y="36">mitochondrial protein</text>
<text class="lb or" x="453" y="49">complex (p = 0.015)</text>
<text class="lb ye" x="555" y="36">organelle envelope</text>
<text class="lb ye" x="560" y="49">lumen (p = 0.015)</text>
<text class="lb cy" x="428" y="198">envelope</text>
<text class="lb cy" x="427" y="214">(p = 0.0044)</text>
<text class="lb cy" x="722" y="224">clathrin-coated pit (p = 0.038)</text>
<text class="lb ye" x="78" y="309">lipid particle (p = 0.0093)</text>
<text class="lb rd" x="212" y="308">vesicle (p = 0.042)</text>
<text class="lb pu" x="57" y="326">extracellular region</text>
<text class="lb pu" x="58" y="339">(p = 0.0022)</text>
<text class="lb or" x="62" y="538">extracellular organelle</text>
<text class="lb or" x="62" y="552">(p = 0.017)</text>
<text class="lb cy" x="245" y="528">membrane</text>
<text class="lb cy" x="245" y="542">(p = 0.0042)</text>
<text class="lb cy" x="370" y="309">nucleus (p = 0.033)</text>
<text class="lb pu" x="347" y="324">membrane-enclosed</text>
<text class="lb pu" x="348" y="339">lumen (p = 0.026)</text>
<text class="lb or" x="495" y="302">organelle inner</text>
<text class="lb or" x="495" y="316">membrane (p = 0.044)</text>
<text class="lb ye" x="547" y="505">exosome</text>
<text class="lb ye" x="547" y="518">(RNase complex)</text>
<text class="lb ye" x="549" y="532">(p = 0.0017)</text>
<text class="lb rd" x="423" y="554">non-membrane-bounded organelle</text>
<text class="lb rd" x="432" y="567">(p = 0.033)</text>
<text class="lb rd" x="647" y="532">host (p =  0.014)</text>
<text class="lb rd" x="690" y="548">nuclear pore (p = 0.0014)</text>
<text class="lb cy" x="147" y="614">microtubule organizing</text>
<text class="lb cy" x="145" y="629">center (p = 1.3x10<tspan dy="-4" font-size="7.5">-11</tspan><tspan dy="4">)</tspan></text>
<text class="lb pu" x="83" y="649">cell projection</text>
<text class="lb pu" x="83" y="664">(p = 3.1x10<tspan dy="-4" font-size="7.5">-4</tspan><tspan dy="4">)</tspan></text>
<text class="lb rd" x="98" y="800">plasma membrane</text>
<text class="lb rd" x="98" y="814">region (p = 0.0028)</text>
<text class="lb ye" x="108" y="841">intraciliary transport</text>
<text class="lb ye" x="108" y="855">particle (p =1.2x10<tspan dy="-4" font-size="7.5">-7</tspan><tspan dy="4">)</tspan></text>
<text class="lb ye" x="128" y="872">cilium (p = 3.9x10<tspan dy="-4" font-size="7.5">-7</tspan><tspan dy="4">)</tspan></text>
<text class="lb cy" x="473" y="619">endomembrane system (p = 0.015)</text>
<text class="lb cy" x="475" y="632">vacuole (p = 0.0011)</text>
<text class="lb ye" x="688" y="621">extracellular matrix</text>
<text class="lb ye" x="688" y="634">(p = 0.0042)</text>
<text class="lb rd" x="463" y="836">extracellular region</text>
<text class="lb rd" x="463" y="849">(p = 0.024)</text>
<text class="lb pu" x="628" y="869">endoplasmic reticulum lumen (p = 7.34x10<tspan dy="-4" font-size="7.5">-9</tspan><tspan dy="4">)</tspan></text>
<text class="la or" x="318" y="931">intrinsic component of</text>
<text class="la or" x="318" y="944">membrane (p = 0.001)</text>
<text class="lb pu" x="647" y="1094">ubiquitin ligase complex</text>
<text class="lb pu" x="647" y="1109">(p = 0.0032)</text>
</g>

<g id="panelL">
<text class="lt" x="62" y="1150" font-size="13">L</text>
<path class="ax" d="M92 1152V1225H468M90 1224H92M90 1206H92M90 1188H92M90 1170H92M90 1152H92"/>
<path class="ax" d="M92 1318V1392H468M90 1391H92M90 1373H92M90 1355H92M90 1337H92M90 1319H92"/>
<path class="ax" d="M543 1152V1225H642M541 1224H543M541 1206H543M541 1188H543M541 1170H543M541 1152H543"/>
<g id="logoN" class="lg">
<text class="Cy" transform="translate(99.5 1224) scale(1.724 1.16)">Y</text>
<text class="B" transform="translate(99.5 1215.7) scale(1.882 7.25)">F</text>
<text class="B" transform="translate(111.7 1224) scale(1.724 1.74)">V</text>
<text class="B" transform="translate(114.7 1211.7) scale(1.978 5.5)">I</text>
<text class="Gr" transform="translate(124 1224) scale(1.593 0.87)">N</text>
<text class="Rd" transform="translate(124 1217.7) scale(1.593 2.61)">K</text>
<text class="G" transform="translate(124 1199.4) scale(1.478 2.47)">G</text>
<text class="Rd" transform="translate(136.2 1224) scale(1.593 0.87)">R</text>
<text class="Gr" transform="translate(136.2 1217.7) scale(1.593 6.96)">N</text>
<text class="Gr" transform="translate(148.5 1224) scale(1.882 1.02)">T</text>
<text class="B" transform="translate(148.5 1216.7) scale(1.882 7.25)">L</text>
<text class="B" transform="translate(160.7 1224) scale(1.882 0.58)">F</text>
<text class="M" transform="translate(160.7 1219.7) scale(1.593 2.9)">D</text>
<text class="Yl" transform="translate(160.7 1199.4) scale(1.724 3.48)">P</text>
<text class="B" transform="translate(172.9 1224) scale(1.882 0.73)">F</text>
<text class="M" transform="translate(172.9 1218.7) scale(1.724 0.87)">E</text>
<text class="Rd" transform="translate(172.9 1212.4) scale(1.593 2.32)">K</text>
<text class="M" transform="translate(185.2 1224) scale(1.593 0.73)">D</text>
<text class="Rd" transform="translate(185.2 1218.7) scale(1.593 1.02)">K</text>
<text class="Gr" transform="translate(185.2 1211.4) scale(1.724 2.9)">S</text>
<text class="B" transform="translate(197.4 1224) scale(1.593 0.73)">A</text>
<text class="Gr" transform="translate(197.4 1218.7) scale(1.478 0.87)">Q</text>
<text class="B" transform="translate(200.4 1212.4) scale(1.978 2.32)">I</text>
<text class="B" transform="translate(209.7 1224) scale(1.882 0.73)">L</text>
<text class="Rd" transform="translate(209.7 1218.7) scale(1.593 1.16)">R</text>
<text class="M" transform="translate(209.7 1210.4) scale(1.593 4.93)">D</text>
<text class="M" transform="translate(221.9 1224) scale(1.724 0.73)">E</text>
<text class="Rd" transform="translate(221.9 1218.7) scale(1.593 0.87)">K</text>
<text class="Gr" transform="translate(221.9 1212.4) scale(1.593 1.74)">N</text>
<text class="M" transform="translate(234.1 1224) scale(1.724 0.73)">E</text>
<text class="Gr" transform="translate(234.1 1218.7) scale(1.593 0.87)">N</text>
<text class="Rd" transform="translate(234.1 1212.4) scale(1.593 2.03)">K</text>
<text class="M" transform="translate(246.4 1224) scale(1.724 0.87)">E</text>
<text class="B" transform="translate(246.4 1217.7) scale(1.593 1.3)">A</text>
<text class="M" transform="translate(246.4 1208.4) scale(1.724 2.03)">E</text>
<text class="B" transform="translate(258.6 1224) scale(1.882 10.44)">L</text>
<text class="M" transform="translate(270.9 1224) scale(1.724 0.73)">E</text>
<text class="Gr" transform="translate(270.9 1218.7) scale(1.882 1.16)">T</text>
<text class="Rd" transform="translate(270.9 1210.4) scale(1.593 2.18)">K</text>
<text class="Cy" transform="translate(270.9 1195.1) scale(1.724 1.45)">Y</text>
<text class="M" transform="translate(283.1 1224) scale(1.724 0.87)">E</text>
<text class="B" transform="translate(283.1 1217.7) scale(1.882 0.73)">L</text>
<text class="M" transform="translate(283.1 1212.4) scale(1.593 4.93)">D</text>
<text class="B" transform="translate(295.3 1224) scale(1.882 0.87)">L</text>
<text class="Gr" transform="translate(295.3 1217.7) scale(1.882 1.74)">T</text>
<text class="B" transform="translate(295.3 1205.4) scale(1.882 5.22)">F</text>
<text class="M" transform="translate(307.6 1224) scale(1.593 1.16)">D</text>
<text class="B" transform="translate(307.6 1215.7) scale(1.882 5.51)">F</text>
<text class="Gr" transform="translate(319.8 1224) scale(1.478 0.73)">Q</text>
<text class="B" transform="translate(319.8 1218.7) scale(1.381 0.87)">M</text>
<text class="B" transform="translate(319.8 1212.4) scale(1.593 1.16)">A</text>
<text class="Gr" transform="translate(319.8 1204.1) scale(1.724 2.03)">S</text>
<text class="B" transform="translate(332.1 1224) scale(1.724 0.73)">V</text>
<text class="Rd" transform="translate(332.1 1218.7) scale(1.593 0.87)">R</text>
<text class="Gr" transform="translate(332.1 1212.4) scale(1.724 2.03)">S</text>
<text class="Cy" transform="translate(344.3 1224) scale(1.724 1.16)">Y</text>
<text class="B" transform="translate(344.3 1215.7) scale(1.882 3.48)">F</text>
<text class="G" transform="translate(356.5 1224) scale(1.478 7.54)">G</text>
<text class="Cy" transform="translate(368.8 1224) scale(1.724 0.87)">Y</text>
<text class="Gr" transform="translate(368.8 1217.7) scale(1.593 5.51)">N</text>
<text class="B" transform="translate(381 1224) scale(1.381 0.87)">M</text>
<text class="Yl" transform="translate(381 1217.7) scale(1.724 0.87)">P</text>
<text class="B" transform="translate(381 1211.4) scale(1.724 2.32)">V</text>
<text class="Cy" transform="translate(393.3 1224) scale(1.724 0.87)">Y</text>
<text class="B" transform="translate(393.3 1217.7) scale(1.724 1.74)">V</text>
<text class="M" transform="translate(405.5 1224) scale(1.724 0.87)">E</text>
<text class="B" transform="translate(408.5 1217.7) scale(1.978 1.16)">I</text>
<text class="Gr" transform="translate(405.5 1209.4) scale(1.724 1.74)">S</text>
<text class="B" transform="translate(417.7 1224) scale(1.882 0.87)">L</text>
<text class="Rd" transform="translate(417.7 1217.7) scale(1.593 0.87)">K</text>
<text class="M" transform="translate(417.7 1211.4) scale(1.724 1.16)">E</text>
<text class="B" transform="translate(417.7 1203.1) scale(1.882 4.35)">L</text>
<text class="B" transform="translate(430 1224) scale(1.593 2.32)">C</text>
<text class="Rd" transform="translate(430 1207.7) scale(1.593 2.32)">K</text>
<text class="B" transform="translate(442.2 1224) scale(1.882 0.87)">F</text>
<text class="Rd" transform="translate(442.2 1217.7) scale(1.593 2.03)">R</text>
<text class="B" transform="translate(442.2 1203.4) scale(1.724 2.32)">V</text>
<text class="B" transform="translate(454.5 1224) scale(1.882 0.87)">L</text>
<text class="B" transform="translate(454.5 1217.7) scale(1.593 0.87)">A</text>
<text class="Gr" transform="translate(454.5 1211.4) scale(1.593 2.32)">N</text>
<text class="B" transform="translate(454.5 1195.1) scale(1.724 2.61)">V</text>
</g>
<g id="logoNsp13" class="lg">
<text class="B" transform="translate(99.5 1391) scale(1.593 0.87)">C</text>
<text class="M" transform="translate(99.5 1384.7) scale(1.724 0.87)">E</text>
<text class="B" transform="translate(99.5 1378.4) scale(1.218 0.87)">W</text>
<text class="B" transform="translate(99.5 1372.1) scale(1.381 3.19)">M</text>
<text class="B" transform="translate(111.7 1391) scale(1.593 0.87)">A</text>
<text class="Gr" transform="translate(111.7 1384.7) scale(1.478 0.73)">Q</text>
<text class="B" transform="translate(111.7 1379.4) scale(1.724 0.87)">V</text>
<text class="Gr" transform="translate(111.7 1373.1) scale(1.478 2.61)">Q</text>
<text class="B" transform="translate(124 1391) scale(1.882 0.73)">F</text>
<text class="B" transform="translate(124 1385.7) scale(1.381 0.73)">M</text>
<text class="Gr" transform="translate(124 1380.4) scale(1.724 0.87)">S</text>
<text class="Rd" transform="translate(124 1374.1) scale(1.593 3.19)">R</text>
<text class="M" transform="translate(136.2 1391) scale(1.724 0.73)">E</text>
<text class="B" transform="translate(136.2 1385.7) scale(1.724 0.73)">V</text>
<text class="Pk" transform="translate(136.2 1380.4) scale(1.593 2.9)">H</text>
<text class="B" transform="translate(148.5 1391) scale(1.882 0.73)">F</text>
<text class="G" transform="translate(148.5 1385.7) scale(1.478 0.58)">G</text>
<text class="Gr" transform="translate(148.5 1381.4) scale(1.724 0.87)">S</text>
<text class="Cy" transform="translate(148.5 1375.1) scale(1.724 2.9)">Y</text>
<text class="B" transform="translate(160.7 1391) scale(1.593 0.73)">C</text>
<text class="Cy" transform="translate(160.7 1385.7) scale(1.724 0.73)">Y</text>
<text class="B" transform="translate(160.7 1380.4) scale(1.724 4.06)">V</text>
<text class="B" transform="translate(175.9 1391) scale(1.978 0.73)">I</text>
<text class="G" transform="translate(172.9 1385.7) scale(1.478 0.58)">G</text>
<text class="B" transform="translate(172.9 1381.4) scale(1.381 3.77)">M</text>
<text class="B" transform="translate(185.2 1391) scale(1.593 0.73)">A</text>
<text class="G" transform="translate(185.2 1385.7) scale(1.478 1.45)">G</text>
<text class="Cy" transform="translate(185.2 1375.4) scale(1.724 3.48)">Y</text>
<text class="B" transform="translate(197.4 1391) scale(1.593 0.73)">C</text>
<text class="Gr" transform="translate(197.4 1385.7) scale(1.882 1.16)">T</text>
<text class="Cy" transform="translate(197.4 1377.4) scale(1.724 3.48)">Y</text>
<text class="B" transform="translate(209.7 1391) scale(1.593 0.87)">C</text>
<text class="Gr" transform="translate(209.7 1384.7) scale(1.724 0.87)">S</text>
<text class="M" transform="translate(209.7 1378.4) scale(1.724 4.06)">E</text>
<text class="Gr" transform="translate(221.9 1391) scale(1.593 0.73)">N</text>
<text class="Gr" transform="translate(221.9 1385.7) scale(1.882 0.87)">T</text>
<text class="B" transform="translate(221.9 1379.4) scale(1.381 3.48)">M</text>
<text class="B" transform="translate(234.1 1391) scale(1.882 0.73)">F</text>
<text class="Gr" transform="translate(234.1 1385.7) scale(1.724 2.03)">S</text>
<text class="Gr" transform="translate(234.1 1371.4) scale(1.724 1.74)">S</text>
<text class="Gr" transform="translate(246.4 1391) scale(1.724 0.58)">S</text>
<text class="B" transform="translate(246.4 1386.7) scale(1.724 0.73)">V</text>
<text class="Cy" transform="translate(246.4 1381.4) scale(1.724 5.08)">Y</text>
<text class="Rd" transform="translate(258.6 1391) scale(1.593 1.16)">R</text>
<text class="G" transform="translate(258.6 1382.7) scale(1.478 5.22)">G</text>
<text class="Pk" transform="translate(270.9 1391) scale(1.593 0.58)">H</text>
<text class="Gr" transform="translate(270.9 1386.7) scale(1.724 1.16)">S</text>
<text class="B" transform="translate(270.9 1378.4) scale(1.882 4.06)">L</text>
<text class="Rd" transform="translate(283.1 1391) scale(1.593 0.87)">R</text>
<text class="Cy" transform="translate(283.1 1384.7) scale(1.724 0.87)">Y</text>
<text class="Gr" transform="translate(283.1 1378.4) scale(1.593 2.61)">N</text>
<text class="Rd" transform="translate(295.3 1391) scale(1.593 0.87)">K</text>
<text class="Gr" transform="translate(295.3 1384.7) scale(1.882 0.87)">T</text>
<text class="B" transform="translate(298.3 1378.4) scale(1.978 1.74)">I</text>
<text class="B" transform="translate(307.6 1391) scale(1.593 0.73)">C</text>
<text class="B" transform="translate(307.6 1385.7) scale(1.882 0.87)">F</text>
<text class="M" transform="translate(307.6 1379.4) scale(1.724 2.61)">E</text>
<text class="B" transform="translate(319.8 1391) scale(1.593 0.73)">A</text>
<text class="G" transform="translate(319.8 1385.7) scale(1.478 1.16)">G</text>
<text class="B" transform="translate(319.8 1377.4) scale(1.381 2.61)">M</text>
<text class="M" transform="translate(332.1 1391) scale(1.724 0.73)">E</text>
<text class="Pk" transform="translate(332.1 1385.7) scale(1.593 2.03)">H</text>
<text class="B" transform="translate(344.3 1391) scale(1.882 0.87)">F</text>
<text class="Rd" transform="translate(344.3 1384.7) scale(1.593 2.03)">K</text>
<text class="Rd" transform="translate(344.3 1370.4) scale(1.593 4.35)">K</text>
<text class="Gr" transform="translate(356.5 1391) scale(1.724 0.73)">S</text>
<text class="Gr" transform="translate(356.5 1385.7) scale(1.882 1.16)">T</text>
<text class="Gr" transform="translate(356.5 1377.4) scale(1.478 2.61)">Q</text>
<text class="B" transform="translate(368.8 1391) scale(1.593 0.87)">A</text>
<text class="Gr" transform="translate(368.8 1384.7) scale(1.724 0.87)">S</text>
<text class="M" transform="translate(368.8 1378.4) scale(1.724 2.9)">E</text>
<text class="B" transform="translate(381 1391) scale(1.593 0.87)">A</text>
<text class="Rd" transform="translate(381 1384.7) scale(1.593 1.16)">R</text>
<text class="M" transform="translate(381 1376.4) scale(1.724 2.32)">E</text>
<text class="B" transform="translate(393.3 1391) scale(1.593 0.87)">C</text>
<text class="B" transform="translate(396.3 1384.7) scale(1.978 0.87)">I</text>
<text class="B" transform="translate(396.3 1378.4) scale(1.978 1.74)">I</text>
<text class="B" transform="translate(405.5 1391) scale(1.593 0.73)">C</text>
<text class="Gr" transform="translate(405.5 1385.7) scale(1.478 1.74)">Q</text>
<text class="B" transform="translate(405.5 1373.4) scale(1.593 2.61)">A</text>
<text class="B" transform="translate(417.7 1391) scale(1.882 0.73)">F</text>
<text class="B" transform="translate(417.7 1385.7) scale(1.724 0.87)">V</text>
<text class="Rd" transform="translate(417.7 1379.4) scale(1.593 3.19)">K</text>
<text class="B" transform="translate(430 1391) scale(1.593 0.73)">A</text>
<text class="Gr" transform="translate(430 1385.7) scale(1.593 1.16)">N</text>
<text class="Rd" transform="translate(430 1377.4) scale(1.593 2.9)">R</text>
<text class="B" transform="translate(442.2 1391) scale(1.593 0.73)">C</text>
<text class="B" transform="translate(442.2 1385.7) scale(1.882 0.73)">F</text>
<text class="Cy" transform="translate(442.2 1380.4) scale(1.724 0.87)">Y</text>
<text class="B" transform="translate(442.2 1374.1) scale(1.882 3.77)">L</text>
<text class="B" transform="translate(454.5 1391) scale(1.593 0.87)">A</text>
<text class="B" transform="translate(454.5 1384.7) scale(1.882 0.87)">F</text>
<text class="Gr" transform="translate(454.5 1378.4) scale(1.593 4.93)">N</text>
</g>
<g id="logoOrf6" class="lg">
<text class="Gr" transform="translate(546 1224) scale(1.964 2.03)">T</text>
<text class="B" transform="translate(546 1209.7) scale(1.271 5.22)">W</text>
<text class="B" transform="translate(562.5 1224) scale(2.518 10.44)">I</text>
<text class="Pk" transform="translate(574 1224) scale(1.662 10.44)">H</text>
<text class="B" transform="translate(588 1224) scale(1.662 2.03)">C</text>
<text class="M" transform="translate(588 1209.7) scale(1.799 1.74)">E</text>
<text class="B" transform="translate(588 1197.4) scale(1.271 2.03)">W</text>
<text class="B" transform="translate(602 1224) scale(1.662 2.03)">A</text>
<text class="B" transform="translate(602 1209.7) scale(1.271 2.03)">W</text>
<text class="Rd" transform="translate(616 1224) scale(1.662 10.44)">K</text>
<text class="Cy" transform="translate(630 1224) scale(1.799 2.61)">Y</text>
<text class="B" transform="translate(630 1205.7) scale(1.662 5.8)">A</text>
</g>
<text class="lt" x="100" y="1251">SARS-CoV-2 Protein N (<tspan font-style="italic">E</tspan>-value = 6.1x10<tspan dy="-5" font-size="9">-16</tspan><tspan dy="5">)</tspan></text>
<text class="lt" x="100" y="1267">PABP1</text><text class="lt" x="171" y="1267">CSK22</text>
<text class="lt" x="100" y="1286">G3BP2</text><text class="lt" x="171" y="1286">RBM28</text>
<text class="lt" x="100" y="1305">G3BP1</text>
<text class="lt" x="100" y="1409">SARS-CoV-2 Protein nsp13 (<tspan font-style="italic">E</tspan>-value = 4.2x10<tspan dy="-5" font-size="9">-26</tspan><tspan dy="5">)</tspan></text>
<text class="lt" x="100" y="1428">TLE1</text><text class="lt" x="171" y="1428">UBP13</text>
<text class="lt" x="100" y="1447">TLE5</text><text class="lt" x="171" y="1447">KAPCA</text>
<text class="lt" x="100" y="1466">FYCO1</text><text class="lt" x="171" y="1466">CTRO</text>
<text class="lt" x="521" y="1251">SARS-CoV-2 Protein orf6</text>
<text class="lt" x="521" y="1269">(E-value = 7.3x10<tspan dy="-5" font-size="9">-3</tspan><tspan dy="5">)</tspan></text>
<text class="lt" x="521" y="1288">NUP98</text>
<text class="lt" x="521" y="1307">RAE1L</text>
</g>
</svg>
